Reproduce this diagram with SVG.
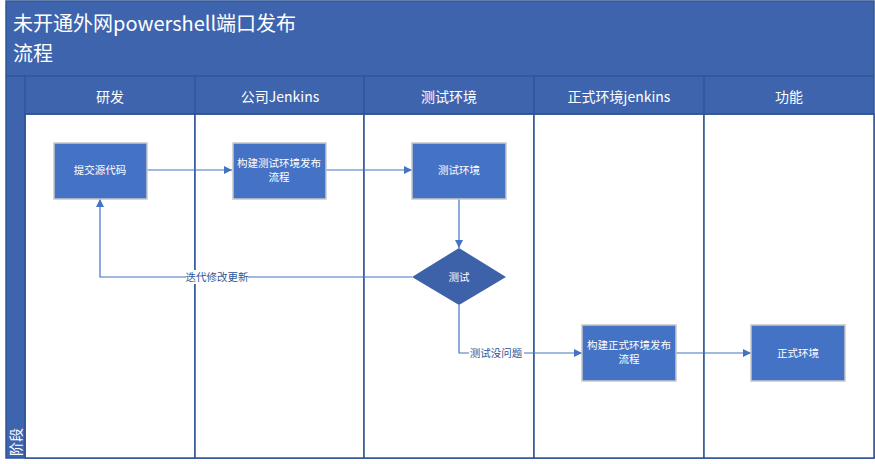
<svg xmlns="http://www.w3.org/2000/svg" width="875" height="464" viewBox="0 0 875 464">
<defs>
<marker id="arr" viewBox="0 0 10 10" refX="10" refY="5" markerWidth="8" markerHeight="8" markerUnits="userSpaceOnUse" orient="auto"><path d="M0,0 L10,5 L0,10 z" fill="#4472C4"/></marker>
<style>
.band{fill:#3E64AE;stroke:#2F5597;stroke-width:1.5}
.lane{fill:#fff;stroke:#2F5597;stroke-width:1.5}
.hd{font-family:"Noto Sans CJK SC","Open Sans",sans-serif;font-size:14px;fill:#fff;text-anchor:middle}
.box{fill:#4472C4;stroke:#C8C8C8;stroke-width:1.5}
.dia{fill:#3E62AA}
.nt{font-family:"Noto Sans CJK SC",sans-serif;font-size:10.5px;fill:#fff;text-anchor:middle}
.ln{fill:none;stroke:#4472C4;stroke-width:1.2}
.lb{font-family:"Noto Sans CJK SC",sans-serif;font-size:10.5px;fill:#2F5597;text-anchor:middle}
</style>
</defs>
<rect x="0" y="0" width="875" height="464" fill="#fff"/>
<g id="pool">
<rect class="band" x="6" y="1" width="868" height="457"/>
<text x="13" y="31" font-family="'Noto Sans CJK SC','Open Sans',sans-serif" font-size="20" fill="#fff">未开通外网powershell端口发布</text>
<text x="13" y="61" font-family="'Noto Sans CJK SC',sans-serif" font-size="20" fill="#fff">流程</text>
<line x1="6" y1="76" x2="874" y2="76" stroke="#2F5597" stroke-width="1.5"/>
<text x="0" y="0" transform="translate(21,456) rotate(-90)" font-family="'Noto Sans CJK SC',sans-serif" font-size="14" fill="#fff">阶段</text>
</g>
<g id="lanes">
<rect class="lane" x="25" y="114" width="170" height="344"/>
<rect class="lane" x="195" y="114" width="169" height="344"/>
<rect class="lane" x="364" y="114" width="170" height="344"/>
<rect class="lane" x="534" y="114" width="170" height="344"/>
<rect class="lane" x="704" y="114" width="170" height="344"/>
<line x1="25" y1="76" x2="25" y2="458" stroke="#2F5597" stroke-width="1.5"/>
<line x1="195" y1="76" x2="195" y2="114" stroke="#2F5597" stroke-width="1.5"/>
<line x1="364" y1="76" x2="364" y2="114" stroke="#2F5597" stroke-width="1.5"/>
<line x1="534" y1="76" x2="534" y2="114" stroke="#2F5597" stroke-width="1.5"/>
<line x1="704" y1="76" x2="704" y2="114" stroke="#2F5597" stroke-width="1.5"/>
<line x1="25" y1="114" x2="874" y2="114" stroke="#2F5597" stroke-width="1.5"/>
<text class="hd" x="110" y="102">研发</text>
<text class="hd" x="280" y="102">公司Jenkins</text>
<text class="hd" x="449" y="102">测试环境</text>
<text class="hd" x="619" y="102">正式环境jenkins</text>
<text class="hd" x="789" y="102">功能</text>
</g>
<g id="connectors">
<line class="ln" x1="147" y1="170" x2="232" y2="170" marker-end="url(#arr)"/>
<line class="ln" x1="326" y1="170" x2="412" y2="170" marker-end="url(#arr)"/>
<line class="ln" x1="459" y1="199" x2="459" y2="248" marker-end="url(#arr)"/>
<polyline class="ln" points="412,277 100,277 100,199" marker-end="url(#arr)"/>
<rect x="186" y="270" width="62" height="14" fill="#fff"/>
<text class="lb" x="217" y="281">迭代修改更新</text>
<polyline class="ln" points="459,305 459,353 582,353" marker-end="url(#arr)"/>
<rect x="469" y="346" width="55" height="14" fill="#fff"/>
<text class="lb" x="496" y="357">测试没问题</text>
<line class="ln" x1="676" y1="353" x2="751" y2="353" marker-end="url(#arr)"/>
</g>
<g id="n1"><rect class="box" x="54" y="143" width="93" height="56"/><text class="nt" x="100" y="174">提交源代码</text></g>
<g id="n2"><rect class="box" x="233" y="143" width="93" height="56"/><text class="nt" x="279" y="167">构建测试环境发布</text><text class="nt" x="279" y="181">流程</text></g>
<g id="n3"><rect class="box" x="412" y="143" width="94" height="56"/><text class="nt" x="459" y="174">测试环境</text></g>
<g id="n4"><polygon class="dia" points="459,248 506,277 459,305 412,277"/><text class="nt" x="459" y="281">测试</text></g>
<g id="n5"><rect class="box" x="582" y="325" width="94" height="56"/><text class="nt" x="629" y="349">构建正式环境发布</text><text class="nt" x="629" y="363">流程</text></g>
<g id="n6"><rect class="box" x="751" y="325" width="94" height="56"/><text class="nt" x="798" y="357">正式环境</text></g>
</svg>
